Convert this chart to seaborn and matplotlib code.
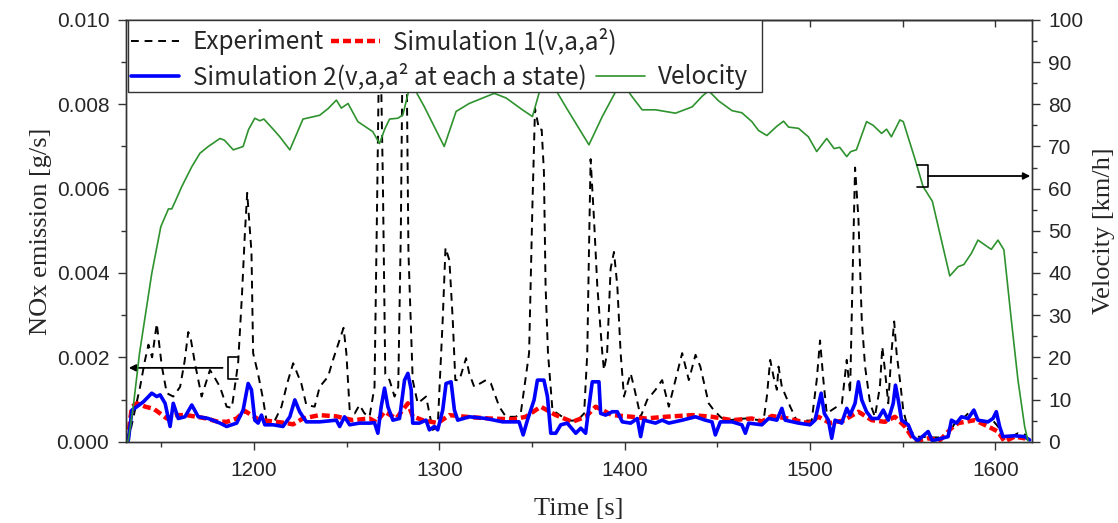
import numpy as np
import matplotlib
matplotlib.use("Agg")
import matplotlib.pyplot as plt
import matplotlib.ticker as mticker
from matplotlib.patches import Rectangle
import seaborn as sns

# Experiment (measured NOx, g/s)
t_exp = [1131.5, 1133, 1135, 1138.5, 1141, 1143, 1145, 1147.5, 1150.2, 1152.9, 1156.4, 1160.1,
         1162.5, 1164.5, 1166, 1168.1, 1171.7, 1176.2, 1179, 1181.6, 1185.2, 1188, 1191.4, 1193.5,
         1195.0, 1196.3, 1198.6, 1199.5, 1202.2, 1204.9, 1206.7, 1211.2, 1214.8, 1218, 1221.1,
         1225.5, 1228.2, 1232.7, 1235.4, 1239.9, 1242.6, 1248.3, 1249.8, 1251.6, 1254.3, 1256.9,
         1259.6, 1262.3, 1265.0, 1266.5, 1267.8, 1269.5, 1270.8, 1273.1, 1275.8, 1277.8, 1279.2,
         1280.5, 1282, 1283.3, 1285.6, 1288.3, 1292.8, 1296.4, 1299.1, 1301.8, 1303.3, 1305.4,
         1307.2, 1308.6, 1310.8, 1314.4, 1316.1, 1318.8, 1325.1, 1327.8, 1332.3, 1335.9, 1341.2,
         1343.9, 1348.4, 1350.2, 1351.6, 1353.8, 1355.2, 1356.4, 1357.3, 1358.6, 1361.0, 1366.3,
         1370, 1374.4, 1378.1, 1379.8, 1380.7, 1381.6, 1383.4, 1385.2, 1387.9, 1388.8, 1390.5,
         1392.4, 1394.2, 1396.0, 1397.8, 1399.6, 1403.2, 1405.0, 1408.6, 1412.1, 1416.6, 1420.2,
         1423.8, 1427.4, 1431.0, 1432.8, 1434.6, 1438.2, 1440.8, 1445.3, 1448.0, 1451.6, 1454.3,
         1465, 1474.9, 1476.7, 1478.5, 1480.3, 1482.1, 1483.0, 1484.8, 1489.3, 1492.8, 1500.9,
         1503.6, 1505.4, 1507.2, 1509.0, 1514.4, 1517.2, 1519.8, 1521.6, 1523, 1524.3, 1526.1,
         1527.9, 1529.7, 1532.4, 1535.0, 1537.7, 1539.0, 1540.4, 1542.2, 1543.9, 1545.4, 1546.7,
         1548.5, 1550.3, 1553.0, 1558.3, 1565, 1574, 1578.1, 1583.5, 1587.1, 1590, 1594.2,
         1598.7, 1601.4, 1603.2, 1608.6, 1612.2, 1616.6]
nox_exp = [0.0000, 0.0002, 0.0006, 0.0013, 0.0019, 0.0023, 0.0020, 0.0028, 0.0018, 0.00115, 0.00107, 0.0013,
           0.0019, 0.0026, 0.0024, 0.00186, 0.00107, 0.0017, 0.0015, 0.0013, 0.00083, 0.0008, 0.00186, 0.0035,
           0.0049, 0.0059, 0.0045, 0.0021, 0.0016, 0.0010, 0.0005, 0.0005, 0.00083, 0.0014, 0.00186,
           0.00138, 0.00087, 0.00083, 0.0013, 0.00154, 0.00194, 0.0027, 0.0021, 0.00075, 0.00067, 0.00087,
           0.00067, 0.00059, 0.0013, 0.0060, 0.0105, 0.0062, 0.0016, 0.00146, 0.00107, 0.0013, 0.0050,
           0.0110, 0.0105, 0.0045, 0.00146, 0.00091, 0.00107, 0.00028, 0.00036, 0.0029, 0.0046, 0.0043,
           0.0029, 0.00146, 0.00146, 0.00198, 0.00162, 0.0013, 0.00146, 0.00138, 0.00083, 0.00059, 0.00059,
           0.00067, 0.0021, 0.0056, 0.0079, 0.0074, 0.0074, 0.0064, 0.0037, 0.0021, 0.00075, 0.00059,
           0.0005, 0.0005, 0.00067, 0.0021, 0.0045, 0.0067, 0.0053, 0.0037, 0.0021, 0.0017, 0.0021,
           0.0041, 0.0045, 0.0037, 0.0021, 0.00107, 0.00162, 0.0013, 0.00059, 0.00099, 0.00123, 0.00146,
           0.00083, 0.00146, 0.0021, 0.00178, 0.00146, 0.00206, 0.00178, 0.00091, 0.00075, 0.00059, 0.0005,
           0.00055, 0.0005, 0.00107, 0.00194, 0.00154, 0.00123, 0.00178, 0.0013, 0.00083, 0.0005, 0.0005,
           0.00146, 0.0024, 0.00146, 0.00067, 0.00083, 0.00091, 0.00194, 0.00115, 0.0040, 0.0065, 0.0053,
           0.0029, 0.00178, 0.00091, 0.00059, 0.0013, 0.00225, 0.0017, 0.00091, 0.0021, 0.00285, 0.0021,
           0.00146, 0.00075, 0.00028, 0.00012, 0.0001, 0.0001, 0.00044, 0.00059, 0.00075, 0.0006, 0.00044,
           0.0005, 0.00036, 0.00012, 0.00012, 0.0002, 0.00016]

# Simulation 1 (v, a, a^2)
t_sim1 = [1131.5, 1132.2, 1134.1, 1136.8, 1141.3, 1145.8, 1149.3, 1152.9, 1158.3, 1163.6, 1169.0, 1174.4,
          1179.8, 1185.2, 1190.6, 1195.0, 1198.6, 1203.1, 1208.5, 1217.5, 1221, 1226.4, 1235.4, 1244.4,
          1253.4, 1262.3, 1266, 1270.4, 1276.7, 1283.0, 1285.6, 1291.0, 1299.1, 1305.4, 1314.4, 1326.9,
          1339.5, 1346.6, 1354.7, 1362.8, 1371.7, 1378.9, 1384.3, 1393.2, 1404.0, 1411.2, 1421.9, 1436.4,
          1447.1, 1457.9, 1468.6, 1474, 1479.4, 1488, 1499.1, 1504.5, 1510.8, 1518, 1526.1, 1533.3,
          1540.4, 1545.8, 1551.2, 1554.8, 1558, 1563.7, 1570, 1576.3, 1579.9, 1588.9, 1596.1, 1601.4,
          1605.0, 1610.4, 1615.8, 1618]
nox_sim1 = [0.0, 0.0002, 0.00083, 0.00091, 0.00083, 0.00078, 0.00067, 0.00055, 0.00063, 0.00063, 0.00059, 0.00055,
            0.00048, 0.00047, 0.00055, 0.00073, 0.00063, 0.00051, 0.00049, 0.00044, 0.00041, 0.00055, 0.00063, 0.00060,
            0.00051, 0.00055, 0.00046, 0.00071, 0.00055, 0.00091, 0.0006, 0.00051, 0.00044, 0.00063, 0.00059, 0.00055,
            0.00053, 0.00059, 0.00083, 0.00063, 0.00047, 0.00059, 0.00083, 0.00063, 0.00059, 0.00055, 0.00059, 0.00063,
            0.00059, 0.00051, 0.00055, 0.00048, 0.00061, 0.00055, 0.00044, 0.00059, 0.00044, 0.0005, 0.00071, 0.00051,
            0.00047, 0.00059, 0.00036, 0.00012, 0.00002, 0.00008, 0.00003, 0.00032, 0.00044, 0.00051, 0.00036, 0.00024,
            0.0, 0.00012, 0.00008, 0.0]

# Simulation 2 (v, a, a^2 at each a state)
t_sim2 = [1131.5, 1132.2, 1134.1, 1136.8, 1140.4, 1144.8, 1147.5, 1149.3, 1152.0, 1154.7, 1156.4, 1159.1,
          1162.7, 1166.4, 1169.9, 1175.3, 1181.6, 1185.2, 1190.6, 1194.1, 1196.8, 1198.6, 1200.4, 1202.2,
          1204.0, 1205.8, 1210.3, 1215.6, 1219.3, 1222, 1224.6, 1228.2, 1235.4, 1244.4, 1246.2, 1248.8,
          1251.6, 1256.9, 1262.3, 1265, 1266.8, 1268.6, 1270.4, 1272.2, 1274.9, 1278.5, 1281.2, 1283.0,
          1284.8, 1285.6, 1289.2, 1292.8, 1294.6, 1297.3, 1299.1, 1301.8, 1303.6, 1306.3, 1308.1, 1309.9,
          1316.1, 1325.1, 1334.1, 1343.0, 1345.2, 1347.5, 1351.1, 1352.9, 1356.4, 1358.3, 1360.1, 1362.8,
          1365.5, 1369.0, 1373.6, 1376.3, 1378.9, 1380.7, 1382.5, 1386.1, 1387.0, 1389.7, 1393.3, 1396.0,
          1398.7, 1403.2, 1406.8, 1408.6, 1410.3, 1416.6, 1420.2, 1423.8, 1431, 1438.2, 1443.5, 1447.1,
          1448.9, 1451.6, 1457.9, 1463.2, 1465.1, 1466.9, 1474.0, 1477.6, 1482.1, 1484.8, 1486.6, 1493.8,
          1500.0, 1502.7, 1506.0, 1507.7, 1509.9, 1511.7, 1513.5, 1517.1, 1519.8, 1521.6, 1524.3, 1526.1,
          1527.9, 1530.5, 1533.3, 1536.8, 1539.5, 1542.2, 1544.9, 1546.1, 1547.6, 1549.4, 1553.0, 1555.6,
          1558, 1563.7, 1566, 1574.5, 1576.3, 1579.0, 1581.7, 1585.3, 1588.4, 1590.6, 1596, 1598.7,
          1600.5, 1602.3, 1604.1, 1610.4, 1615.8, 1618.5]
nox_sim2 = [0.0, 0.00004, 0.00075, 0.00083, 0.00095, 0.00115, 0.00107, 0.00111, 0.00091, 0.00036, 0.00091, 0.00055,
            0.00059, 0.00087, 0.00059, 0.00055, 0.00044, 0.00036, 0.00044, 0.00075, 0.00138, 0.00123, 0.00051, 0.00044,
            0.00063, 0.0004, 0.0004, 0.00036, 0.00059, 0.00099, 0.00071, 0.00047, 0.00047, 0.00051, 0.00036, 0.00059,
            0.0004, 0.00044, 0.00044, 0.00045, 0.0002, 0.00083, 0.00127, 0.00083, 0.00051, 0.00055, 0.00146, 0.00162,
            0.00123, 0.00044, 0.00044, 0.00051, 0.00028, 0.00036, 0.00028, 0.00075, 0.00138, 0.00142, 0.00075, 0.00051,
            0.00059, 0.00055, 0.00047, 0.00047, 0.00016, 0.00051, 0.00099, 0.00146, 0.00146, 0.00107, 0.0002, 0.0002,
            0.0004, 0.00044, 0.0002, 0.00032, 0.0002, 0.00083, 0.00142, 0.00142, 0.00067, 0.00063, 0.00071, 0.00071,
            0.00047, 0.00044, 0.00055, 0.00012, 0.00051, 0.00044, 0.00051, 0.00044, 0.00051, 0.00059, 0.00051, 0.00047,
            0.00016, 0.00047, 0.00047, 0.0004, 0.0002, 0.00044, 0.0004, 0.00055, 0.00051, 0.00079, 0.00051, 0.00044,
            0.0004, 0.00051, 0.00115, 0.00067, 0.00051, 0.00008, 0.00051, 0.00044, 0.00079, 0.00063, 0.00091, 0.00142,
            0.00099, 0.00071, 0.00055, 0.00055, 0.00075, 0.00051, 0.00091, 0.00134, 0.00099, 0.00051, 0.0004, 0.00012,
            0.00002, 0.00024, 0.00002, 0.00012, 0.00051, 0.00044, 0.00059, 0.00055, 0.00075, 0.00051, 0.00047, 0.00055,
            0.00071, 0.00036, 0.00012, 0.00014, 0.00012, 0.00004]

# Velocity (km/h)
t_vel = [1131.5, 1132.2, 1135, 1138.2, 1144.8, 1149.7, 1153.8, 1155.6, 1158, 1161, 1166.4, 1170.8,
         1175.3, 1181.6, 1184, 1188.8, 1194.1, 1197, 1200.4, 1203.1, 1205.3, 1210.7, 1213.9, 1219.3,
         1226.4, 1235.4, 1240, 1244.4, 1247.1, 1250.7, 1256.0, 1264.1, 1267.7, 1270.4, 1273.1, 1277.6,
         1280.3, 1283.9, 1286, 1288, 1291.9, 1302.6, 1309.0, 1316.1, 1329.6, 1336, 1344.8, 1350.2,
         1354, 1358, 1362, 1368.2, 1380.7, 1387.9, 1395.1, 1398, 1401.3, 1404.0, 1409.4, 1416.6,
         1427.4, 1436.4, 1442, 1445.3, 1450.7, 1457.9, 1463.2, 1468.6, 1472.2, 1476.7, 1482.1, 1485.7,
         1488.4, 1493.8, 1499.1, 1503.6, 1509.0, 1513, 1516, 1519.8, 1522, 1525, 1530.5, 1534.1,
         1538.6, 1541.3, 1543.9, 1548.5, 1550.3, 1556.5, 1561.0, 1566, 1570.5, 1575.4, 1579.9, 1583,
         1587.1, 1590.6, 1597.8, 1601.4, 1604.6, 1608.6, 1612.2, 1615.8, 1617.6]
vel = [0, 0.4, 9, 21, 39.9, 51.0, 55.2, 55.2, 57.5, 60.5, 65.2, 68.4,
       70.0, 71.9, 71.5, 69.2, 70.0, 74, 76.7, 76.1, 76.5, 73.9, 72.3, 69.2,
       76.5, 77.4, 79, 81.0, 79.1, 80.2, 75.9, 73.5, 70.7, 74.0, 76.5, 76.7,
       77.5, 84, 86, 82.5, 79.4, 70.0, 78.3, 80.2, 82.6, 81.5, 78.7, 77.1,
       83, 87, 84, 79.4, 70.4, 77.1, 83, 86, 83.5, 81.8, 78.7, 78.7,
       77.9, 79.4, 82, 83.2, 80.8, 78.5, 78.0, 75.9, 73.8, 72.6, 74.8, 76.0,
       74.6, 74.3, 72.3, 68.8, 71.9, 69.5, 69.8, 67.6, 68.8, 69.2, 75.9, 75.0,
       73.1, 74.1, 72.3, 76.3, 75.9, 67.2, 60.5, 57, 48.5, 39.3, 41.5, 42,
       44.7, 47.8, 45.6, 47.8, 45.5, 28.9, 14.6, 3.6, 0.2]

sns.set_style("ticks")
plt.rcParams['font.family'] = ['Liberation Sans', 'DejaVu Sans']
plt.rcParams['axes.linewidth'] = 1.0

fig = plt.figure(figsize=(11.18, 5.23), dpi=100)
ax = fig.add_axes([0.1127, 0.1555, 0.8101, 0.8063])
ax2 = ax.twinx()

sns.lineplot(x=t_exp, y=nox_exp, ax=ax, color='black', lw=1.4, linestyle=(0, (4, 3)),
             label='Experiment', legend=False)
sns.lineplot(x=t_sim1, y=nox_sim1, ax=ax, color='#ff0000', lw=3.2, linestyle=(0, (1.8, 0.9)),
             label='Simulation 1(v,a,a²)', legend=False)
sns.lineplot(x=t_sim2, y=nox_sim2, ax=ax, color='#0000ff', lw=2.6,
             label='Simulation 2(v,a,a² at each a state)', legend=False)
sns.lineplot(x=t_vel, y=vel, ax=ax2, color='#2e922e', lw=1.2, label='Velocity', legend=False)

ax.set_xlim(1130.9, 1619.6)
ax.set_ylim(0, 0.010)
ax2.set_ylim(0, 100)

ax.xaxis.set_major_locator(mticker.MultipleLocator(100))
ax.xaxis.set_minor_locator(mticker.MultipleLocator(50))
ax.yaxis.set_major_locator(mticker.MultipleLocator(0.002))
ax.yaxis.set_minor_locator(mticker.MultipleLocator(0.001))
ax.yaxis.set_major_formatter(mticker.FormatStrFormatter('%.3f'))
ax2.yaxis.set_major_locator(mticker.MultipleLocator(10))
ax2.yaxis.set_minor_locator(mticker.MultipleLocator(5))

tick_font = 15
ax.tick_params(axis='both', which='major', direction='out', length=6, width=1,
               labelsize=tick_font, pad=6, color='#333333')
ax.tick_params(axis='both', which='minor', direction='out', length=3.5, width=1, color='#333333')
ax.tick_params(axis='x', which='major', pad=8)
ax2.tick_params(axis='y', which='major', direction='out', length=6, width=1,
                labelsize=tick_font, pad=6, color='#333333')
ax2.tick_params(axis='y', which='minor', direction='out', length=3.5, width=1, color='#333333')

# ticks on top spine pointing inward
top = ax.secondary_xaxis('top')
top.xaxis.set_major_locator(mticker.MultipleLocator(100))
top.xaxis.set_minor_locator(mticker.MultipleLocator(50))
top.tick_params(which='both', direction='in', length=5, width=1, labeltop=False, color='#333333')

label_font = {'family': ['Liberation Serif', 'DejaVu Serif'], 'size': 19}
ax.set_xlabel('Time [s]', fontdict=label_font, labelpad=13)
ax.set_ylabel('NOx emission [g/s]', fontdict=label_font, labelpad=3)
ax2.set_ylabel('Velocity [km/h]', fontdict=label_font, labelpad=7, rotation=90)

for a in (ax, ax2):
    for s in a.spines.values():
        s.set_color('#333333')
        s.set_linewidth(1.0)

# arrows pointing to the matching axis
ax.annotate('', xy=(0.0, 0.00175), xycoords=('axes fraction', 'data'),
            xytext=(1183, 0.00175), textcoords='data',
            arrowprops=dict(arrowstyle='-|>', color='black', lw=1.3, mutation_scale=10,
                            shrinkA=0, shrinkB=2))
ax.plot([1191.3, 1185.9, 1185.9, 1191.3], [0.00201, 0.00201, 0.00149, 0.00149],
        color='black', lw=1.2)
ax2.annotate('', xy=(1.0, 63), xycoords=('axes fraction', 'data'),
             xytext=(1563.7, 63), textcoords='data',
             arrowprops=dict(arrowstyle='-|>', color='black', lw=1.3, mutation_scale=10,
                             shrinkA=0, shrinkB=1))
ax2.plot([1557.8, 1563.7, 1563.7, 1557.8], [65.6, 65.6, 60.4, 60.4], color='black', lw=1.2)

# legend box (two rows with their own spacing, like the original)
ax2.add_patch(Rectangle((0.002, 0.829), 0.700, 0.171, transform=ax2.transAxes,
                        facecolor='white', edgecolor='#333333', lw=1.0, zorder=4.5))
h1, l1 = ax.get_legend_handles_labels()
h2, l2 = ax2.get_legend_handles_labels()
leg_font = {'family': ['Noto Sans CJK JP', 'DejaVu Sans'], 'size': 17.5}
leg_kw = dict(loc='center left', ncol=2, frameon=False, borderpad=0, borderaxespad=0,
              handlelength=2.0, handletextpad=0.55, prop=leg_font)
leg1 = ax2.legend([h1[0], h1[1]], [l1[0], l1[1]], bbox_to_anchor=(0.005, 0.9486),
                  columnspacing=0.3, **leg_kw)
leg1.set_zorder(6)
ax2.add_artist(leg1)
leg2 = ax2.legend([h1[2], h2[0]], [l1[2], l2[0]], bbox_to_anchor=(0.005, 0.8655),
                  columnspacing=0.4, **leg_kw)
leg2.set_zorder(6)

fig.savefig('out.png', dpi=100)
